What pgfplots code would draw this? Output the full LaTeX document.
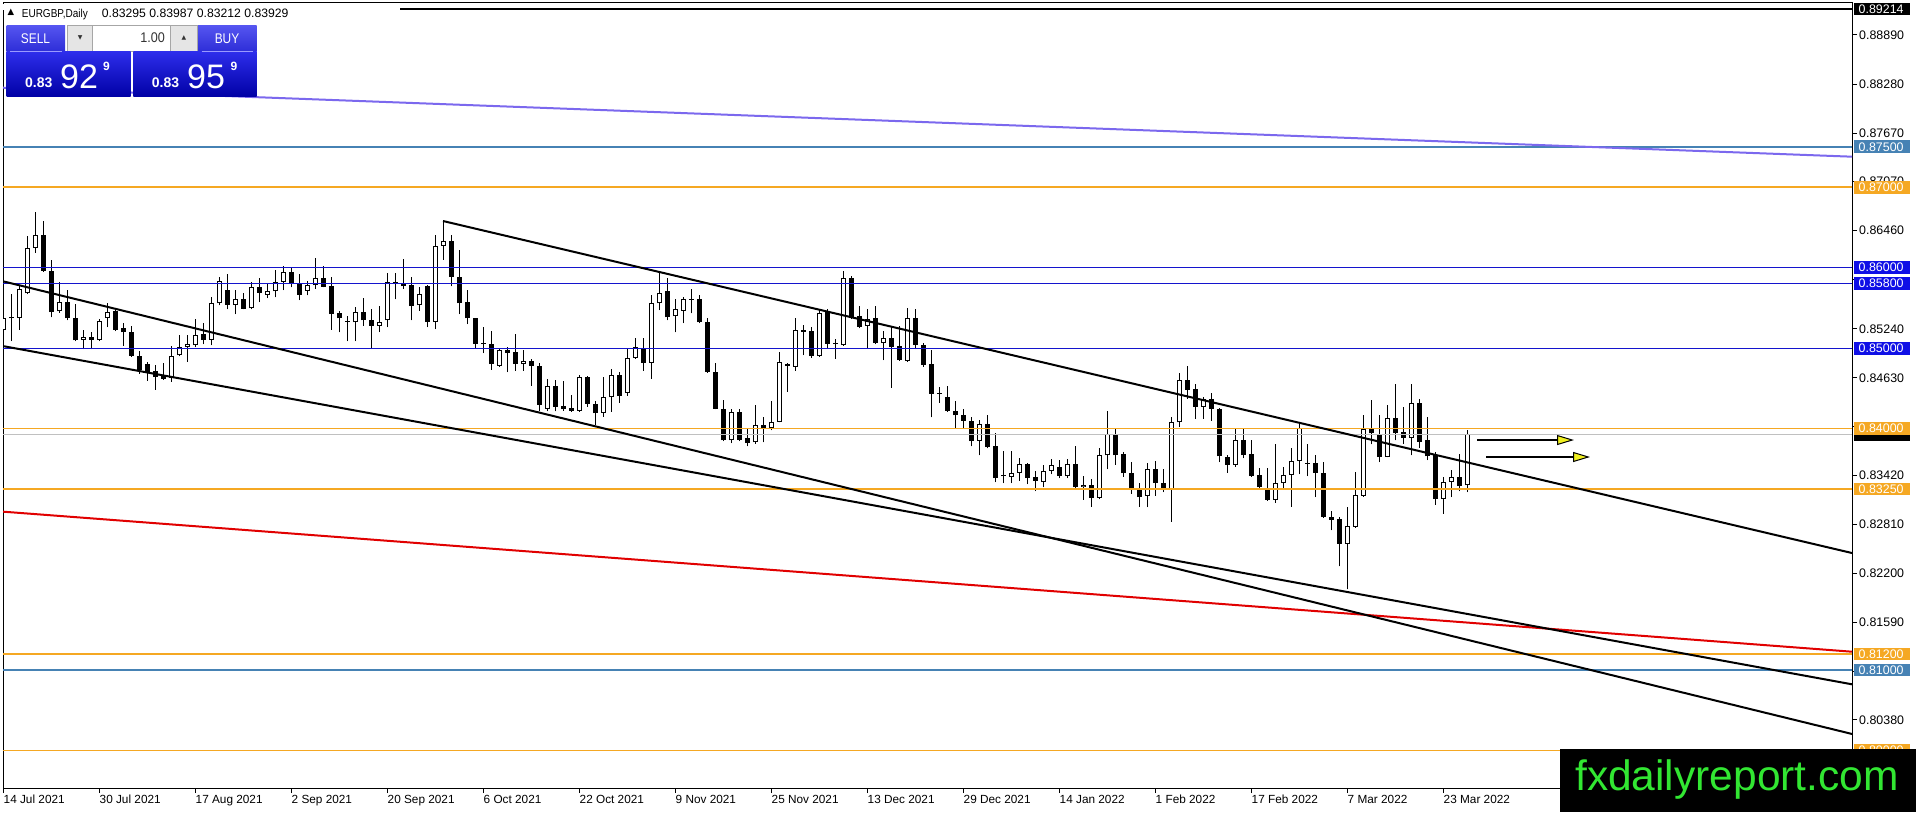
\documentclass[border=0pt]{standalone}
\usepackage{fontspec}
\setmainfont{Liberation Sans}
\newfontfamily\dejavu{DejaVu Sans}
\usepackage{pgfplots}
\pgfplotsset{compat=1.18}
\usepackage{pgfplotstable}
\usetikzlibrary{arrows.meta}

\definecolor{mtorange}{RGB}{245,168,35}
\definecolor{mtsteel}{RGB}{70,130,180}
\definecolor{mtblue}{RGB}{20,20,205}
\definecolor{mtbluebox}{RGB}{15,15,230}
\definecolor{mtpurple}{RGB}{123,104,238}
\definecolor{mtred}{RGB}{225,0,0}
\definecolor{mtgrey}{RGB}{192,192,192}
\definecolor{mtyellow}{RGB}{240,240,30}
\definecolor{fxgreen}{RGB}{50,230,50}
\definecolor{btntop}{RGB}{85,85,240}
\definecolor{btnbot}{RGB}{45,45,215}
\definecolor{pantop}{RGB}{45,45,235}
\definecolor{panbot}{RGB}{0,0,165}

\pgfplotstableread{
i O H L C
0 0.85225 0.85423 0.85186 0.85373
2 0.85373 0.85778 0.85225 0.85729
3 0.85679 0.86395 0.85670 0.86247
4 0.86247 0.86691 0.86183 0.86410
7 0.85457 0.85827 0.85442 0.85576
10 0.85102 0.85225 0.84988 0.85141
12 0.85102 0.85363 0.85087 0.85334
13 0.85373 0.85556 0.85260 0.85452
21 0.84633 0.85028 0.84584 0.84905
22 0.84910 0.85161 0.84900 0.85013
23 0.85018 0.85161 0.84831 0.85048
24 0.85038 0.85359 0.85013 0.85161
26 0.85102 0.85630 0.85038 0.85566
27 0.85556 0.85887 0.85531 0.85837
29 0.85541 0.85719 0.85423 0.85605
31 0.85497 0.85827 0.85482 0.85753
33 0.85664 0.85798 0.85620 0.85704
34 0.85704 0.85975 0.85630 0.85817
35 0.85827 0.86015 0.85719 0.85951
38 0.85714 0.85837 0.85655 0.85778
39 0.85778 0.86123 0.85738 0.85867
44 0.85319 0.85507 0.85087 0.85452
47 0.85275 0.85521 0.85200 0.85319
48 0.85344 0.85936 0.85260 0.85827
52 0.85531 0.85753 0.85467 0.85670
54 0.85324 0.86410 0.85235 0.86271
55 0.86271 0.86567 0.86099 0.86331
62 0.84781 0.84998 0.84766 0.84979
65 0.84801 0.84974 0.84717 0.84840
68 0.84248 0.84618 0.84214 0.84535
72 0.84224 0.84668 0.84209 0.84643
75 0.84199 0.84643 0.84150 0.84387
76 0.84387 0.84742 0.84209 0.84668
78 0.84446 0.84998 0.84406 0.84880
79 0.84880 0.85122 0.84865 0.85013
81 0.84816 0.85655 0.84618 0.85556
82 0.85556 0.85936 0.85472 0.85689
84 0.85393 0.85605 0.85196 0.85482
85 0.85467 0.85640 0.85309 0.85605
91 0.83854 0.84248 0.83819 0.84209
94 0.83829 0.84298 0.83814 0.84041
96 0.84012 0.84347 0.83977 0.84086
97 0.84086 0.84949 0.84076 0.84831
99 0.84766 0.85373 0.84717 0.85220
102 0.84900 0.85482 0.84890 0.85433
105 0.85038 0.85960 0.85028 0.85867
108 0.85275 0.85492 0.84998 0.85359
110 0.85063 0.85210 0.84850 0.85122
113 0.84840 0.85497 0.84831 0.85368
122 0.83844 0.84110 0.83666 0.84061
126 0.83400 0.83716 0.83321 0.83449
127 0.83449 0.83632 0.83350 0.83558
130 0.83336 0.83548 0.83271 0.83474
131 0.83474 0.83617 0.83434 0.83543
133 0.83410 0.83617 0.83385 0.83558
135 0.83276 0.83410 0.83114 0.83301
137 0.83138 0.83755 0.83123 0.83666
138 0.83666 0.84214 0.83498 0.83938
143 0.83163 0.83567 0.83025 0.83498
146 0.83252 0.84150 0.82842 0.84086
147 0.84076 0.84692 0.84026 0.84609
150 0.84273 0.84396 0.84125 0.84372
154 0.83548 0.84002 0.83523 0.83864
159 0.83114 0.83814 0.83079 0.83321
160 0.83321 0.83518 0.83262 0.83420
161 0.83424 0.83765 0.83030 0.83597
162 0.83597 0.84051 0.83434 0.84002
168 0.82571 0.83025 0.82003 0.82793
169 0.82783 0.83459 0.82768 0.83173
170 0.83163 0.84165 0.83153 0.83992
173 0.83646 0.84288 0.83646 0.84135
176 0.83888 0.84559 0.83666 0.84313
180 0.83123 0.83400 0.82941 0.83336
181 0.83336 0.83484 0.83148 0.83395
183 0.83295 0.83987 0.83212 0.83929
}\bull

\pgfplotstableread{
i O H L C
1 0.85378 0.85670 0.85087 0.85368
5 0.86410 0.86577 0.85950 0.85960
6 0.85960 0.86089 0.85383 0.85447
8 0.85576 0.85719 0.85344 0.85368
9 0.85378 0.85551 0.85087 0.85097
11 0.85141 0.85200 0.84988 0.85102
14 0.85467 0.85492 0.85210 0.85225
15 0.85245 0.85309 0.85030 0.85196
16 0.85196 0.85270 0.84890 0.84905
17 0.84905 0.84964 0.84683 0.84732
18 0.84806 0.84831 0.84594 0.84692
19 0.84717 0.84791 0.84480 0.84643
20 0.84668 0.84816 0.84604 0.84618
25 0.85176 0.85309 0.85048 0.85102
28 0.85719 0.85926 0.85482 0.85541
30 0.85605 0.85679 0.85482 0.85492
32 0.85753 0.85877 0.85571 0.85689
36 0.85951 0.86000 0.85753 0.85813
37 0.85813 0.85926 0.85595 0.85664
40 0.85867 0.86015 0.85753 0.85763
41 0.85768 0.85887 0.85225 0.85423
42 0.85433 0.85457 0.85196 0.85368
43 0.85339 0.85393 0.85087 0.85329
45 0.85452 0.85620 0.85275 0.85344
46 0.85344 0.85482 0.84998 0.85275
49 0.85827 0.85936 0.85605 0.85798
50 0.85798 0.86113 0.85738 0.85768
51 0.85778 0.85887 0.85344 0.85521
53 0.85768 0.85778 0.85260 0.85324
56 0.86336 0.86410 0.85768 0.85887
57 0.85887 0.86222 0.85423 0.85556
58 0.85571 0.85719 0.85299 0.85368
59 0.85368 0.85378 0.84998 0.85053
60 0.85058 0.85260 0.84939 0.85048
61 0.85048 0.85211 0.84732 0.84801
63 0.84974 0.85013 0.84702 0.84939
64 0.84949 0.85176 0.84717 0.84801
66 0.84840 0.84865 0.84530 0.84781
67 0.84781 0.84816 0.84214 0.84298
69 0.84535 0.84604 0.84214 0.84273
70 0.84283 0.84594 0.84224 0.84239
71 0.84253 0.84421 0.84209 0.84224
73 0.84643 0.84653 0.84273 0.84308
74 0.84308 0.84347 0.84041 0.84189
77 0.84668 0.84702 0.84322 0.84406
80 0.85003 0.85122 0.84717 0.84816
83 0.85704 0.85877 0.85344 0.85383
86 0.85610 0.85729 0.85433 0.85600
87 0.85605 0.85655 0.85309 0.85319
88 0.85319 0.85373 0.84692 0.84702
89 0.84707 0.84816 0.84239 0.84248
90 0.84248 0.84357 0.83844 0.83854
92 0.84209 0.84248 0.83844 0.83864
93 0.83878 0.84012 0.83780 0.83819
95 0.84041 0.84140 0.83829 0.84012
98 0.84806 0.84816 0.84456 0.84776
100 0.85220 0.85285 0.84914 0.85206
101 0.85210 0.85260 0.84880 0.84900
103 0.85457 0.85482 0.84998 0.85053
104 0.85058 0.85112 0.84865 0.85048
106 0.85867 0.85891 0.85359 0.85373
107 0.85393 0.85521 0.85245 0.85260
109 0.85368 0.85521 0.85048 0.85063
111 0.85122 0.85275 0.84510 0.85013
112 0.85023 0.85270 0.84840 0.84850
114 0.85368 0.85482 0.84988 0.85038
115 0.85038 0.85063 0.84766 0.84791
116 0.84801 0.84974 0.84140 0.84431
117 0.84441 0.84520 0.84322 0.84431
118 0.84387 0.84535 0.84209 0.84224
119 0.84224 0.84347 0.84012 0.84165
120 0.84174 0.84239 0.84012 0.84100
121 0.84100 0.84150 0.83780 0.83844
123 0.84061 0.84174 0.83755 0.83770
124 0.83780 0.83942 0.83336 0.83385
125 0.83415 0.83716 0.83321 0.83405
128 0.83558 0.83572 0.83311 0.83385
129 0.83400 0.83474 0.83222 0.83350
132 0.83523 0.83607 0.83385 0.83410
134 0.83558 0.83780 0.83252 0.83271
136 0.83301 0.83370 0.83030 0.83138
139 0.83938 0.84002 0.83548 0.83666
140 0.83681 0.83706 0.83400 0.83444
141 0.83449 0.83582 0.83188 0.83262
142 0.83237 0.83321 0.83030 0.83148
144 0.83498 0.83592 0.83163 0.83321
145 0.83326 0.83493 0.83212 0.83252
148 0.84609 0.84776 0.84372 0.84480
149 0.84495 0.84554 0.84125 0.84273
151 0.84372 0.84446 0.84100 0.84248
152 0.84248 0.84258 0.83582 0.83656
153 0.83641 0.83666 0.83449 0.83548
155 0.83864 0.84002 0.83632 0.83671
156 0.83681 0.83864 0.83400 0.83410
157 0.83420 0.83508 0.83262 0.83271
158 0.83262 0.83508 0.83104 0.83114
163 0.83572 0.83814 0.83410 0.83563
164 0.83572 0.83666 0.83148 0.83449
165 0.83449 0.83587 0.82891 0.82901
166 0.82906 0.82975 0.82734 0.82867
167 0.82877 0.82906 0.82289 0.82571
171 0.83992 0.84357 0.83804 0.83942
172 0.83938 0.84174 0.83582 0.83646
174 0.84135 0.84554 0.83854 0.83942
175 0.83952 0.84273 0.83814 0.83888
177 0.84313 0.84372 0.83765 0.83839
178 0.83854 0.84150 0.83607 0.83656
179 0.83666 0.83706 0.83054 0.83123
182 0.83400 0.83681 0.83222 0.83286
}\bear

\newcommand{\plabel}[3]{%
  \fill[#2] (1854,{#1-6.4}) rectangle (1910,{#1+6.4});
  \node[anchor=west, inner sep=0pt, text=white, font=\fontsize{12.4}{12}\selectfont] at (1858.5,#1) {#3};}

\pgfplotsset{
  candlebase/.style={only marks, mark=*, mark size=0pt,
    mark options={draw=none, fill=none}, forget plot},
  wick/.style={black, candlebase,
    error bars/.cd, y dir=plus, y explicit, error mark=none,
    error bar style={line width=1pt, black}},
  bodyblack/.style={black, candlebase,
    error bars/.cd, y dir=plus, y explicit, error mark=none,
    error bar style={line width=5pt, black}},
  bodywhite/.style={white, candlebase,
    error bars/.cd, y dir=plus, y explicit, error mark=none,
    error bar style={line width=3pt, white}},
}

\begin{document}
\begin{tikzpicture}[x=1pt,y=1pt]
\path[use as bounding box, fill=white] (0,0) rectangle (1916,812);
\begin{axis}[
  at={(3pt,24pt)}, anchor=south west,
  scale only axis, width=1849pt, height=785pt,
  xmin=0, xmax=231.125, ymin=0.795348, ymax=0.892876,
  axis line style={black, line width=1pt},
  xtick={0,12,...,180},
  xticklabels={14 Jul 2021,30 Jul 2021,17 Aug 2021,2 Sep 2021,20 Sep 2021,6 Oct 2021,22 Oct 2021,9 Nov 2021,25 Nov 2021,13 Dec 2021,29 Dec 2021,14 Jan 2022,1 Feb 2022,17 Feb 2022,7 Mar 2022,23 Mar 2022},
  ytick={0.8889,0.8828,0.8767,0.8707,0.8646,0.8585,0.8524,0.8463,0.8402,0.8342,0.8281,0.8220,0.8159,0.8098,0.8038},
  yticklabels={0.88890,0.88280,0.87670,0.87070,0.86460,{},0.85240,0.84630,{},0.83420,0.82810,0.82200,0.81590,{},0.80380},
  xtick pos=left, ytick pos=right, yticklabel pos=right,
  tick align=outside, major tick length=5pt,
  tick style={black, line width=1pt},
  x tick label style={font=\fontsize{11.8}{12}\selectfont, anchor=north west, inner sep=0pt, xshift=0.5pt, yshift=-2pt},
  y tick label style={font=\fontsize{12.4}{12}\selectfont, anchor=west, inner sep=0pt, xshift=2pt},
]
% candles
\addplot[wick] table[x=i, y=L, y error plus expr={\thisrow{H}-\thisrow{L}}] {\bull};
\addplot[wick] table[x=i, y=L, y error plus expr={\thisrow{H}-\thisrow{L}}] {\bear};
\addplot[bodyblack] table[x=i, y=C, y error plus expr={max(\thisrow{O}-\thisrow{C},0.00013)}] {\bear};
\addplot[bodyblack] table[x=i, y=O, y error plus expr={max(\thisrow{C}-\thisrow{O},0.00013)}] {\bull};
\addplot[bodywhite] table[x=i, y expr={\thisrow{O}+0.000124}, y error plus expr={max(\thisrow{C}-\thisrow{O}-0.000248,0)}] {\bull};

% horizontal levels
\addplot[black, line width=1.5pt] coordinates {(0,0.89214) (231.125,0.89214)};
\addplot[mtsteel, line width=1.8pt] coordinates {(0,0.875) (231.125,0.875)};
\addplot[mtorange, line width=1.8pt] coordinates {(0,0.870) (231.125,0.870)};
\addplot[mtblue, line width=1.1pt] coordinates {(0,0.860) (231.125,0.860)};
\addplot[mtblue, line width=1.1pt] coordinates {(0,0.858) (231.125,0.858)};
\addplot[mtblue, line width=1.1pt] coordinates {(0,0.850) (231.125,0.850)};
\addplot[mtgrey, line width=1pt] coordinates {(0,0.83929) (231.125,0.83929)};
\addplot[mtorange, line width=1.8pt] coordinates {(0,0.840) (231.125,0.840)};
\addplot[mtorange, line width=1.8pt] coordinates {(0,0.8325) (231.125,0.8325)};
\addplot[mtorange, line width=1.8pt] coordinates {(0,0.812) (231.125,0.812)};
\addplot[mtsteel, line width=1.8pt] coordinates {(0,0.810) (231.125,0.810)};
\addplot[mtorange, line width=1.8pt] coordinates {(0,0.800) (231.125,0.800)};

% trend lines
\addplot[mtpurple, line width=2pt] coordinates {(0,0.88235) (231.125,0.87378)};
\addplot[mtred, line width=2pt] coordinates {(0,0.82968) (231.125,0.81228)};
\addplot[black, line width=2pt] coordinates {(0,0.85830) (231.125,0.80206)};
\addplot[black, line width=2pt] coordinates {(0,0.85025) (231.125,0.80823)};
\addplot[black, line width=2pt] coordinates {(55,0.86579) (231.125,0.82454)};

% arrows
\addplot[black, line width=2pt, -{Triangle[length=17pt,width=10pt,fill=mtyellow,line width=1pt]}] coordinates {(184.25,0.83858) (196.375,0.83858)};
\addplot[black, line width=2pt, -{Triangle[length=17pt,width=10pt,fill=mtyellow,line width=1pt]}] coordinates {(185.375,0.83647) (198.375,0.83647)};
\end{axis}

% price labels on the right
\fill[black] (1854,796.7) rectangle (1910,809.3);
\node[anchor=west, inner sep=0pt, text=white, font=\fontsize{12.4}{12}\selectfont] at (1858.5,803) {0.89214};
\plabel{665.12}{mtsteel}{0.87500}
\plabel{624.87}{mtorange}{0.87000}
\plabel{544.38}{mtbluebox}{0.86000}
\plabel{528.29}{mtbluebox}{0.85800}
\plabel{463.89}{mtbluebox}{0.85000}
\fill[black] (1854,{377.69-6.4}) rectangle (1910,{377.69+6.4});
\plabel{383.40}{mtorange}{0.84000}
\plabel{323.04}{mtorange}{0.83250}
\plabel{158.03}{mtorange}{0.81200}
\plabel{141.93}{mtsteel}{0.81000}
\plabel{61.44}{mtorange}{0.80000}

% header
\fill[white] (0.3,802) rectangle (400,808.3);
\node[anchor=base west, inner sep=0pt, font=\dejavu\fontsize{8.5}{8}\selectfont] at (7.3,797.5) {▲};
\node[anchor=base west, inner sep=0pt, font=\fontsize{11.5}{11}\selectfont, xscale=0.87] at (21.7,794.7) {EURGBP,Daily};
\node[anchor=base west, inner sep=0pt, font=\fontsize{12.2}{12}\selectfont] at (101.7,794.7) {0.83295 0.83987 0.83212 0.83929};

% trade panel
\shade[top color=btntop, bottom color=btnbot] (6.7,760.3) rectangle (65,786.3);
\shade[top color=btntop, bottom color=btnbot] (197.3,760.3) rectangle (256.7,786.3);
\fill[white] (67.7,760.3) rectangle (197.3,787);
\fill[black!10] (67.7,760.3) rectangle (92.7,787);
\fill[black!10] (170.7,760.3) rectangle (197.3,787);
\draw[black!35, line width=0.8pt] (67.7,760.3) rectangle (197.3,787);
\draw[black!35, line width=0.8pt] (92.7,760.3) -- (92.7,787) (170.7,760.3) -- (170.7,787);
\shade[top color=pantop, bottom color=panbot] (6.7,715.3) rectangle (130.7,760.3);
\shade[top color=pantop, bottom color=panbot] (133.3,715.3) rectangle (256.7,760.3);
\draw[white!60!blue, line width=0.8pt] (10,760.3) -- (62,760.3) (201.7,760.3) -- (253.3,760.3);
\node[text=white, font=\fontsize{14}{14}\selectfont, xscale=0.85] at (35.5,773.3) {SELL};
\node[text=white, font=\fontsize{14}{14}\selectfont, xscale=0.85] at (227,773.3) {BUY};
\node[anchor=east, inner sep=0pt, text=black!80, font=\fontsize{14}{14}\selectfont, xscale=0.9] at (165,774) {1.00};
\node[inner sep=0pt, text=black!80, font=\dejavu\fontsize{6}{6}\selectfont] at (80.2,773.8) {▼};
\node[inner sep=0pt, text=black!80, font=\dejavu\fontsize{6}{6}\selectfont] at (184,774.5) {▲};
\node[anchor=base west, inner sep=0pt, text=white, font=\bfseries\fontsize{14}{14}\selectfont] at (25,724.7) {0.83};
\node[anchor=base west, inner sep=0pt, text=white, font=\fontsize{34}{34}\selectfont] at (60,723.7) {92};
\node[anchor=base west, inner sep=0pt, text=white, font=\bfseries\fontsize{12}{12}\selectfont] at (103,741.5) {9};
\node[anchor=base west, inner sep=0pt, text=white, font=\bfseries\fontsize{14}{14}\selectfont] at (151.7,724.7) {0.83};
\node[anchor=base west, inner sep=0pt, text=white, font=\fontsize{34}{34}\selectfont] at (187,723.7) {95};
\node[anchor=base west, inner sep=0pt, text=white, font=\bfseries\fontsize{12}{12}\selectfont] at (230.5,741.5) {9};

% watermark box
\fill[black] (1560,0) rectangle (1916,63);
\node[anchor=base west, inner sep=0pt, text=fxgreen, font=\fontsize{42.5}{42.5}\selectfont] at (1575,22) {fxdailyreport.com};
\end{tikzpicture}
\end{document}
